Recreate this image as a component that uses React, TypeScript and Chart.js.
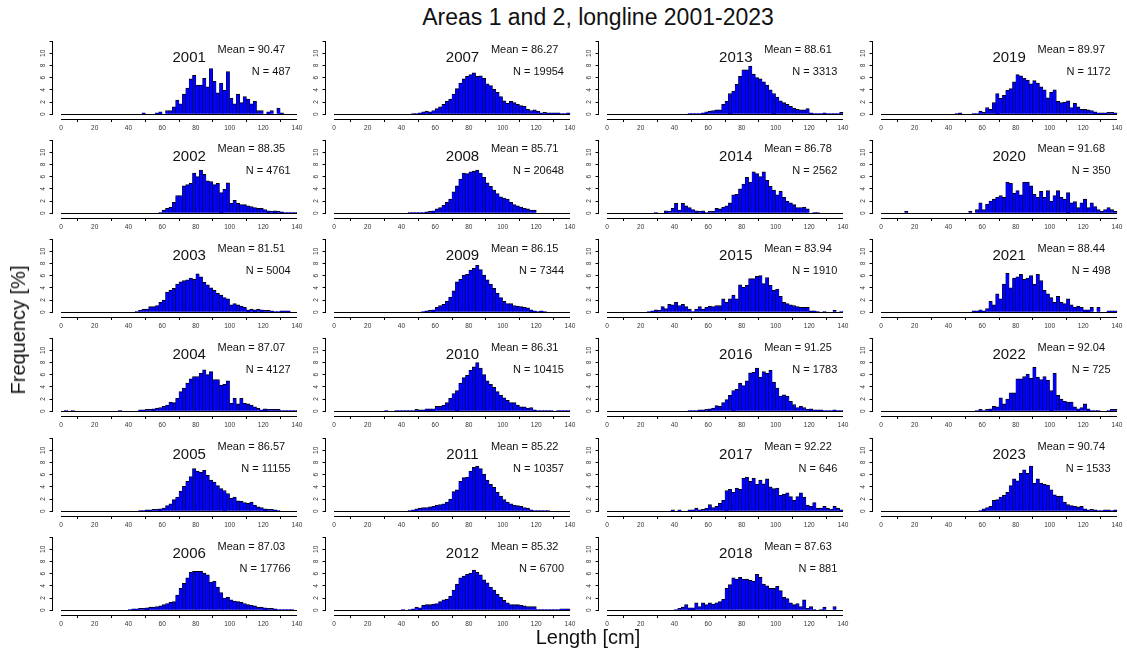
import React, { useEffect, useRef } from 'react';
import { Chart, registerables } from 'chart.js';
Chart.register(...registerables);

// ---------- data ----------
const BIN_START = [
  0, 2, 4, 6, 8, 10, 12, 14, 16, 18,
  20, 22, 24, 26, 28, 30, 32, 34, 36, 38,
  40, 42, 44, 46, 48, 50, 52, 54, 56, 58,
  60, 62, 64, 66, 68, 70, 72, 74, 76, 78,
  80, 82, 84, 86, 88, 90, 92, 94, 96, 98,
  100, 102, 104, 106, 108, 110, 112, 114, 116, 118,
  120, 122, 124, 126, 128, 130, 132, 134, 136, 138,
];
const BIN_WIDTH = 2;
const X_TICKS = [0, 20, 40, 60, 80, 100, 120, 140];
const Y_TICKS = [0, 2, 4, 6, 8, 10, 12];
const Y_LABELLED_MAX = 10;

const YEARS = ['2001','2002','2003','2004','2005','2006','2007','2008','2009','2010','2011','2012',
  '2013','2014','2015','2016','2017','2018','2019','2020','2021','2022','2023'];
const MEANS = ['90.47','88.35','81.51','87.07','86.57','87.03','86.27','85.71','86.15','86.31','85.22','85.32',
  '88.61','86.78','83.94','91.25','92.22','87.63','89.97','91.68','88.44','92.04','90.74'];
const NS = [487, 4761, 5004, 4127, 11155, 17766, 19954, 20648, 7344, 10415, 10357, 6700,
  3313, 2562, 1910, 1783, 646, 881, 1172, 350, 498, 725, 1533];

const F2001 = [
  0,0,0,0,0,0,0,0,0,0, 0,0,0,0,0,0,0,0,0,0,
  0,0,0,0,0.2,0,0,0,0.2,0.4,
  0,0.6,0.6,1.2,2.3,1.7,3.3,4.3,5.8,6.4,
  4.8,4.8,5.9,4.5,7.5,5.4,3.5,5.1,3.9,7.0,
  2.6,1.7,3.3,1.9,2.9,2.5,1.7,2.1,0.6,0.6,
  0,0.4,0.6,0,1.0,0.2,0,0,0,0,
];
const F2002 = [
  0,0,0,0,0,0,0,0,0,0, 0,0,0,0,0,0,0,0,0,0,
  0,0,0,0,0,0,0,0,0,0.1,
  0.5,0.8,1.0,1.8,2.9,2.9,4.5,4.7,4.9,6.6,
  6.0,7.1,6.4,5.3,5.2,4.7,4.9,3.4,3.9,5.0,
  1.6,2.1,1.6,1.4,1.4,1.2,1.1,0.9,0.8,0.8,
  0.6,0.4,0.3,0.4,0.3,0.2,0.1,0.1,0.1,0.1,
];
const F2003 = [
  0,0,0,0,0,0,0,0,0,0, 0,0,0,0,0,0,0,0,0,0,
  0,0,0.1,0.3,0.5,0.5,0.9,0.9,1.1,1.6,
  2.0,3.3,3.6,3.9,4.6,5.0,5.2,5.3,5.6,5.4,
  6.3,5.8,4.9,4.5,4.0,3.6,3.1,2.8,2.4,2.2,
  1.2,1.4,1.2,1.0,0.8,0.4,0.5,0.4,0.5,0.4,
  0.3,0.3,0.2,0.1,0.1,0.2,0.2,0.2,0,0,
];
const F2004 = [
  0,0.1,0,0.1,0,0,0,0,0,0,
  0,0,0,0,0,0,0,0.1,0,0,
  0,0,0,0.2,0.2,0.3,0.3,0.4,0.5,0.6,
  0.8,1.0,1.5,1.4,2.1,3.2,3.8,4.6,5.3,5.7,
  5.7,6.2,6.8,6.0,6.5,5.2,5.2,4.3,4.4,5.0,
  1.3,2.1,1.2,2.1,1.3,1.2,1.0,0.7,0.5,0.2,
  0.4,0.3,0.3,0.3,0.3,0.1,0.1,0.1,0.1,0.1,
];
const F2005 = [
  0,0,0,0,0,0,0,0,0,0, 0,0,0,0,0,0,0,0,0,0,
  0,0,0,0.1,0.1,0.2,0.2,0.3,0.3,0.4,
  0.5,0.9,1.2,1.9,2.3,3.3,4.1,4.9,5.7,7.0,
  6.6,6.4,6.7,5.9,5.1,4.8,4.2,3.7,3.4,2.9,
  2.1,2.3,1.7,1.6,1.4,1.3,1.5,1.0,0.7,0.6,
  0.4,0.3,0.3,0.2,0.1,0,0,0,0,0,
];
const F2006 = [
  0,0,0,0,0,0,0,0,0,0, 0,0,0,0,0,0,0,0,0,0,
  0.1,0.2,0.2,0.3,0.3,0.4,0.5,0.5,0.6,0.7,
  0.9,1.1,1.3,1.4,2.5,3.6,4.4,5.3,6.2,6.4,
  6.4,6.4,6.1,5.8,4.6,4.8,3.8,2.9,2.0,2.1,
  1.7,1.5,1.4,1.3,1.1,0.9,0.8,0.7,0.5,0.5,
  0.4,0.3,0.3,0.2,0.1,0.1,0.1,0.1,0.1,0,
];
const F2007 = [
  0,0,0,0,0,0,0,0,0,0, 0,0,0,0,0,0,0,0,0,0,
  0,0,0,0.1,0.1,0.2,0.4,0.5,0.4,0.6,
  0.9,1.2,1.6,2.1,2.5,3.3,4.2,5.1,5.8,6.2,
  6.5,6.8,6.2,6.3,5.9,5.0,4.7,4.1,3.6,2.9,
  2.2,1.8,2.1,1.9,1.6,1.4,1.3,0.8,0.6,0.7,
  0.5,0.2,0.3,0.2,0.2,0.2,0.2,0.1,0.1,0.2,
];
const F2008 = [
  0,0,0,0,0,0,0,0,0,0, 0,0,0,0,0,0,0,0,0,0,
  0,0,0.1,0.1,0.1,0.1,0.1,0.2,0.3,0.4,
  0.7,0.9,1.3,1.8,2.3,3.5,4.5,5.6,6.6,6.5,
  6.8,6.9,7.1,6.6,5.9,5.0,4.4,3.8,3.2,2.7,
  2.5,2.3,1.8,1.4,1.2,1.0,0.8,0.7,0.5,0.5,
  0,0,0,0,0,0,0,0,0,0,
];
const F2009 = [
  0,0,0,0,0,0,0,0,0,0, 0,0,0,0,0,0,0,0,0,0,
  0,0,0,0,0,0,0.1,0.2,0.3,0.4,
  0.8,1.1,1.3,1.8,2.5,3.5,5.0,5.4,6.1,6.2,
  6.9,7.2,7.7,7.0,6.1,5.3,4.6,3.9,3.1,2.4,
  1.8,1.4,1.4,1.1,1.0,0.9,0.8,0.7,0.4,0.2,
  0.1,0.2,0.1,0,0,0,0,0,0,0,
];
const F2010 = [
  0,0,0,0,0,0,0,0,0,0,
  0,0,0,0,0,0.1,0,0,0.1,0.1,
  0.1,0.1,0.1,0.1,0.3,0.2,0.2,0.4,0.4,0.4,
  0.8,0.8,1.0,1.4,2.1,2.9,3.4,4.6,5.5,5.9,
  6.7,7.3,8.0,7.1,6.0,5.0,4.4,3.9,3.2,2.6,
  2.2,1.8,1.4,1.4,1.0,0.7,0.7,0.5,0.6,0.2,
  0.1,0.1,0.1,0.1,0.1,0,0.1,0.1,0.1,0.1,
];
const F2011 = [
  0,0,0,0,0,0,0,0,0,0, 0,0,0,0,0,0,0,0,0,0,
  0,0,0.1,0.2,0.4,0.5,0.6,0.6,0.7,0.8,
  1.0,1.1,1.2,1.5,2.0,3.2,3.5,4.9,5.5,5.6,
  6.6,7.2,7.4,7.0,6.1,5.1,4.4,3.9,3.1,2.5,
  1.9,1.5,1.2,1.0,0.9,0.8,0.6,0.5,0.2,0.1,
  0.1,0.1,0.1,0.1,0,0,0,0,0,0,
];
const F2012 = [
  0,0,0,0,0,0,0,0,0,0, 0,0,0,0,0,0,0,0,0,0,
  0.1,0,0.1,0.2,0.5,0.4,0.8,0.9,0.9,1.0,
  1.1,1.4,1.7,1.8,2.3,3.3,4.3,5.3,5.6,5.9,
  6.1,6.6,6.2,5.8,5.0,4.5,3.8,3.3,2.6,2.1,
  1.6,1.2,0.9,0.9,0.9,0.8,0.7,0.6,0.6,0.6,
  0.1,0.1,0.1,0.1,0.1,0.1,0.1,0.2,0.2,0.2,
];
const F2013 = [
  0,0,0,0,0,0,0,0,0,0, 0,0,0,0,0,0,0,0,0,0,
  0,0,0,0,0.1,0.1,0.1,0.1,0.2,0.4,
  0.5,0.6,0.7,0.7,1.6,2.1,3.4,3.8,4.9,6.2,
  7.3,7.3,7.9,6.6,6.0,5.8,5.3,4.8,4.0,3.4,
  2.8,2.2,1.9,1.6,1.3,1.0,0.8,0.7,0.7,0.9,
  0.2,0.1,0.1,0.1,0.2,0.1,0.1,0.1,0.1,0.3,
];
const F2014 = [
  0,0,0,0,0,0,0,0,0,0,
  0,0,0,0,0.1,0,0,0.4,0.3,0.8,
  1.6,0.5,1.6,1.2,0.9,0.6,0.4,0.3,0.4,0.1,
  0.3,0.3,0.8,0.7,1.0,1.2,1.7,3.0,3.1,4.0,
  4.8,5.9,5.1,6.8,6.5,6.0,6.8,5.4,4.4,3.8,
  3.0,3.6,2.6,2.0,1.7,1.4,0.9,0.9,1.0,0.7,
  0,0.1,0.1,0,0,0,0,0,0,0,
];
const F2015 = [
  0,0,0,0,0,0,0,0,0,0,
  0,0,0.1,0.2,0.4,0.3,0.9,0.6,1.3,1.2,
  1.6,1.1,1.3,0.9,0.5,0.1,0.5,0.9,0.5,0.8,
  1.0,0.9,1.1,1.1,2.2,1.6,2.2,2.8,2.2,4.5,
  4.1,4.4,5.5,5.5,5.9,6.0,4.7,5.7,4.4,3.6,
  3.8,2.6,1.6,1.4,1.2,1.1,0.9,0.8,0.8,0.8,
  0.2,0.2,0.1,0,0.1,0,0,0.3,0,0.1,
];
const F2016 = [
  0,0,0,0,0,0,0,0,0,0, 0,0,0,0,0,0,0,0,0,0,
  0,0,0,0,0.1,0.1,0.1,0.2,0.2,0.3,
  0.4,0.5,0.9,0.8,1.4,1.9,2.6,3.4,3.6,4.6,
  4.2,5.0,6.3,6.4,7.1,5.6,6.5,6.2,6.7,4.8,
  3.8,2.5,2.7,2.5,1.6,1.1,0.6,0.8,0.6,0.3,
  0.4,0.2,0.2,0.2,0.1,0.1,0.1,0.2,0.1,0.1,
];
const F2017 = [
  0,0,0,0,0,0,0,0,0,0,
  0,0,0,0,0,0,0,0,0,0.2,
  0,0.2,0,0,0.2,0.2,0.5,0.2,0.3,0.5,
  1.1,0.6,0.8,1.3,1.8,3.4,3.6,3.1,3.8,3.6,
  5.4,5.6,4.9,5.4,4.4,5.1,4.5,5.3,4.0,3.7,
  3.8,2.6,2.8,3.0,2.4,1.8,2.4,3.0,2.3,1.0,
  0.8,1.4,0.5,0.5,0.8,0.5,0.3,0.8,0.5,0.2,
];
const F2018 = [
  0,0,0,0,0,0,0,0,0,0, 0,0,0,0,0,0,0,0,0,0,
  0.1,0.3,0.5,0.9,0.4,0.4,1.2,0.6,1.2,0.9,
  1.2,1.0,1.2,1.4,1.8,3.6,4.2,5.3,5.1,5.4,
  5.1,5.1,4.9,4.8,5.9,5.4,4.3,4.0,3.6,3.6,
  3.9,3.2,2.1,1.9,1.2,0.9,1.1,0.6,1.7,0.3,
  0.6,0.1,0,0.1,0.5,0,0,0.6,0,0,
];
const F2019 = [
  0,0,0,0,0,0,0,0,0,0, 0,0,0,0,0,0,0,0,0,0,
  0,0,0.1,0.2,0,0,0,0.1,0.1,0.5,
  0.3,1.1,0.8,1.9,3.4,2.6,3.1,3.9,4.2,5.3,
  6.5,6.3,5.9,5.6,5.0,5.5,5.1,4.5,4.0,2.7,
  3.6,4.0,2.1,1.9,2.0,2.2,1.1,1.8,1.2,0.8,
  0.8,0.7,0.6,0.4,0.2,0.2,0.2,0.3,0.3,0.2,
];
const F2020 = [
  0,0,0,0,0,0,0,0.3,0,0,
  0,0,0,0,0,0,0,0,0,0,
  0,0,0,0,0,0,0.3,0,0.6,1.7,
  0.6,1.5,2.0,2.3,2.6,2.9,2.6,5.1,4.9,3.3,
  3.7,3.0,5.1,5.1,4.5,3.1,2.6,3.6,2.6,3.7,
  2.0,2.9,3.7,2.6,2.3,3.4,1.7,1.9,0.9,1.7,
  2.3,0.9,1.7,1.1,0.6,0.3,0.6,0.9,0.6,0.3,
];
const F2021 = [
  0,0,0,0,0,0,0,0,0,0, 0,0,0,0,0,0,0,0,0,0,
  0,0,0,0,0,0,0,0.2,0.2,0.4,
  0.2,0.6,1.8,1.2,3.0,2.2,4.6,6.4,4.0,5.6,
  5.8,6.2,5.4,5.6,6.0,4.6,6.2,5.2,3.6,3.0,
  2.4,1.6,2.6,1.6,1.4,2.2,1.2,0.8,1.0,0.8,
  0.4,0.4,0.8,0,0.8,0,0,0.2,0.2,0.2,
];
const F2022 = [
  0,0,0,0,0,0,0,0,0,0, 0,0,0,0,0,0,0,0,0,0,
  0,0,0,0,0,0,0,0,0.1,0.3,
  0.1,0.3,0.4,0.8,0.7,2.2,1.2,2.0,3.0,3.0,
  5.3,5.3,5.7,6.1,5.4,7.2,5.6,5.2,5.7,5.1,
  3.4,6.2,2.6,2.0,1.6,1.5,1.5,0.7,0.4,0.6,
  1.2,0.4,0.1,0.1,0.1,0,0,0.1,0.3,0.3,
];
const F2023 = [
  0,0,0,0,0,0,0,0,0,0, 0,0,0,0,0,0,0,0,0,0,
  0,0,0,0,0,0,0,0,0,0.1,
  0.4,0.6,0.8,1.8,1.9,2.3,2.6,3.1,4.2,5.3,
  5.0,6.2,6.8,6.2,7.4,4.6,5.3,4.6,4.4,4.3,
  3.5,2.7,2.5,2.5,1.5,1.1,0.9,0.8,0.7,0.8,
  0.4,0.2,0.3,0.2,0.1,0.1,0.2,0.2,0.1,0.2,
];

const FREQS = [F2001, F2002, F2003, F2004, F2005, F2006, F2007, F2008, F2009, F2010, F2011, F2012,
  F2013, F2014, F2015, F2016, F2017, F2018, F2019, F2020, F2021, F2022, F2023];

// ---------- layout ----------
const ROWS = 6;
const COL_X0 = [60.7, 334, 607.3, 880.6]; // pixel of x = 0 in each column
const ROW_BASE0 = 113.5;
const ROW_STEP = 99.3;
const PX_PER_CM = 236 / 140;
const PX_PER_PCT = 6.3;
const X_MIN = -5;
const X_MAX = 145.6;
const Y_MIN = -0.8;
const CAN_W = 290;
const CAN_H = 104;
const CAN_LEFT_OFF = 40; // canvas left = X0 - 40
const CAN_BASE = 84;     // baseline y inside canvas
const PAD_TOP = 4;
const Y_MAX = (CAN_BASE - PAD_TOP) / PX_PER_PCT;
const FONT = '"Liberation Sans", Arial, Helvetica, sans-serif';

const rAxes = {
  id: 'rAxes',
  afterDatasetsDraw(chart: any) {
    const { ctx, chartArea } = chart;
    const x = chart.scales.x;
    const y = chart.scales.y;
    ctx.save();
    ctx.strokeStyle = '#000';
    ctx.lineWidth = 1;
    ctx.beginPath();
    const y0 = Math.round(y.getPixelForValue(0)) + 0.5;
    ctx.moveTo(x.getPixelForValue(X_TICKS[0]), y0);
    ctx.lineTo(x.getPixelForValue(X_TICKS[X_TICKS.length - 1]), y0);
    const xb = Math.round(chartArea.bottom) + 0.5;
    ctx.moveTo(x.getPixelForValue(X_TICKS[0]), xb);
    ctx.lineTo(x.getPixelForValue(X_TICKS[X_TICKS.length - 1]), xb);
    const yl = Math.round(chartArea.left) - 0.5;
    ctx.moveTo(yl, y.getPixelForValue(Y_TICKS[0]));
    ctx.lineTo(yl, y.getPixelForValue(Y_TICKS[Y_TICKS.length - 1]));
    ctx.stroke();
    ctx.restore();
  },
};

function Panel({ idx }: { idx: number }) {
  const ref = useRef<HTMLCanvasElement>(null);
  const col = Math.floor(idx / ROWS);
  const row = idx % ROWS;
  const x0 = COL_X0[col];
  const base = ROW_BASE0 + ROW_STEP * row;

  useEffect(() => {
    const freq = FREQS[idx];
    const yAxisW = CAN_LEFT_OFF + X_MIN * PX_PER_CM;
    const areaRight = CAN_LEFT_OFF + X_MAX * PX_PER_CM;
    const xAxisH = CAN_H - (CAN_BASE - Y_MIN * PX_PER_PCT);
    const chart = new Chart(ref.current as HTMLCanvasElement, {
      type: 'bar',
      data: {
        datasets: [{
          data: BIN_START.map((b, i) => ({ x: b + BIN_WIDTH / 2, y: freq[i] })),
          backgroundColor: '#0000FF',
          borderColor: '#000000',
          borderWidth: { top: 1, left: 0.5, right: 0.5, bottom: 0 },
          barPercentage: 1,
          categoryPercentage: 1,
        }],
      },
      options: {
        responsive: false,
        animation: false,
        devicePixelRatio: 1,
        events: [],
        layout: { padding: { left: 0, right: CAN_W - areaRight, top: PAD_TOP, bottom: 0 } },
        plugins: { legend: { display: false }, tooltip: { enabled: false }, title: { display: false } },
        scales: {
          x: {
            type: 'linear',
            min: X_MIN,
            max: X_MAX,
            offset: false,
            afterBuildTicks: (s: any) => { s.ticks = X_TICKS.map((v) => ({ value: v })); },
            afterFit: (s: any) => { s.height = xAxisH; },
            grid: { display: true, drawOnChartArea: false, drawTicks: true, tickLength: 3, color: '#000', lineWidth: 1 },
            border: { display: false },
            ticks: {
              autoSkip: false, minRotation: 0, maxRotation: 0, padding: 2,
              font: { size: 6.5, family: FONT }, color: '#333',
              callback: (v: any) => String(v),
            },
          },
          y: {
            type: 'linear',
            min: Y_MIN,
            max: Y_MAX,
            afterBuildTicks: (s: any) => { s.ticks = Y_TICKS.map((v) => ({ value: v })); },
            afterFit: (s: any) => { s.width = yAxisW; },
            grid: { display: true, drawOnChartArea: false, drawTicks: true, tickLength: 3, color: '#000', lineWidth: 1 },
            border: { display: false },
            ticks: {
              autoSkip: false, minRotation: 90, maxRotation: 90, crossAlign: 'center', padding: 3,
              font: { size: 6.5, family: FONT }, color: '#333',
              callback: (v: any) => (v <= Y_LABELLED_MAX ? String(v) : ''),
            },
          },
        },
      },
      plugins: [rAxes],
    } as any);
    return () => chart.destroy();
  }, [idx]);

  const txt = (left: number, top: number, size: number, tx: string): React.CSSProperties => ({
    position: 'absolute', left, top, fontSize: size, lineHeight: 1, whiteSpace: 'nowrap',
    transform: `translate(${tx}, -50%)`, color: '#111', fontFamily: FONT,
  });

  return (
    <>
      <canvas
        ref={ref}
        width={CAN_W}
        height={CAN_H}
        style={{ position: 'absolute', left: x0 - CAN_LEFT_OFF, top: base - CAN_BASE, width: CAN_W, height: CAN_H }}
      />
      <div style={txt(x0 + 128.5, base - 58, 15, '-50%')}>{YEARS[idx]}</div>
      <div style={txt(x0 + 224.5, base - 64.5, 11, '-100%')}>{`Mean = ${MEANS[idx]}`}</div>
      <div style={txt(x0 + 230, base - 42.5, 11, '-100%')}>{`N = ${NS[idx]}`}</div>
    </>
  );
}

export default function App() {
  return (
    <div style={{ position: 'absolute', left: 0, top: 0, width: 1127, height: 657, overflow: 'hidden', background: '#fff', fontFamily: FONT }}>
      {YEARS.map((_, i) => <Panel key={i} idx={i} />)}
      <div style={{ position: 'absolute', left: 598, top: 17, transform: 'translate(-50%, -50%)', fontSize: 23, lineHeight: 1, whiteSpace: 'nowrap', color: '#111' }}>
        Areas 1 and 2, longline 2001-2023
      </div>
      <div style={{ position: 'absolute', left: 588, top: 637, transform: 'translate(-50%, -50%)', fontSize: 20, lineHeight: 1, whiteSpace: 'nowrap', color: '#111' }}>
        Length [cm]
      </div>
      <div style={{ position: 'absolute', left: 18, top: 330, transform: 'translate(-50%, -50%) rotate(-90deg)', fontSize: 20, lineHeight: 1, whiteSpace: 'nowrap', color: '#111' }}>
        Frequency [%]
      </div>
    </div>
  );
}
